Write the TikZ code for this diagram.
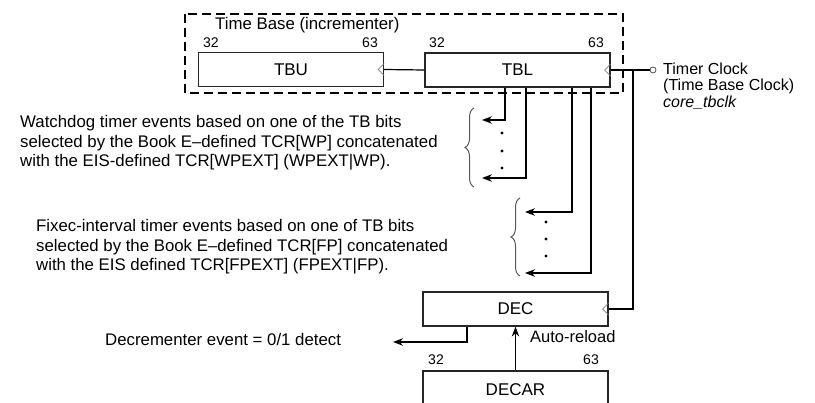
\documentclass[tikz,border=0pt]{standalone}
\usepackage{fontspec}
\setmainfont{Liberation Sans}
\usetikzlibrary{arrows.meta,decorations.pathreplacing,calc}
\begin{document}
\begin{tikzpicture}[x=1pt,y=-1pt,
  reg/.style={draw=black!85,line width=1.2pt,minimum width=185pt,minimum height=34pt,inner sep=0pt,font=\fontsize{17}{18}\selectfont},
  lbl/.style={inner sep=0pt,align=left,font=\fontsize{16.8}{19.6}\selectfont},
  bitnum/.style={inner sep=0pt,font=\fontsize{14}{15}\selectfont},
  conn/.style={line width=1.2pt},
  arr/.style={conn,-{Stealth[length=10pt,width=7.5pt]}},
  clk/.style={draw=black!50,line width=0.8pt},
  brc/.style={draw=black!65,line width=1pt,decorate,decoration={brace,amplitude=9pt}},
  tapdot/.style={circle,fill=black,inner sep=0pt,minimum size=3.4pt}
]
\path[use as bounding box] (0,0) rectangle (815,403);
\clip (0,0) rectangle (815,403);

% dashed time base box
\draw[line width=1.4pt,dash pattern=on 9pt off 5pt] (185,14) rectangle (623,93);
\node[lbl,anchor=west] (tbtitle) at (215,25) {Time Base (incrementer)};

% registers
\node[reg] (TBU) at (291,69.5) {TBU};
\node[reg] (TBL) at (517.5,70) {TBL};
\node[reg] (DEC) at (515.5,309) {DEC};
\node[reg,minimum height=38pt] (DECAR) at (515.5,390) {DECAR};

% bit numbers
\node[bitnum] (tbu32) at (211,43) {32};
\node[bitnum] (tbu63) at (370,43) {63};
\node[bitnum] (tbl32) at (437,43) {32};
\node[bitnum] (tbl63) at (596,43) {63};
\node[bitnum] (dec32) at (436,360) {32};
\node[bitnum] (dec63) at (591,360) {63};

% clock marks
\foreach \r in {TBU,TBL,DEC}{
  \draw[clk] ($(\r.east)+(0,-6)$) -- ($(\r.east)+(-6,0)$) -- ($(\r.east)+(0,6)$);
}

% TBU <- TBL carry
\draw[conn] (TBU.east) -- (TBL.west);

% timer clock input
\node[circle,draw=black!70,line width=0.8pt,inner sep=0pt,minimum size=6pt] (clkin) at (653,70) {};
\draw[conn] (TBL.east) -- (clkin.west);
\coordinate (clkj) at (633,70);
\draw[conn] (clkj) |- (DEC.east);
\node[lbl,anchor=west,font=\fontsize{16}{16.5}\selectfont] (clktext) at (663,86)
  {Timer Clock\\(Time Base Clock)\\\textit{core\_tbclk}};

% watchdog taps
\coordinate (w1) at (482,120);
\coordinate (w2) at (482,178);
\draw[arr] (TBL.south -| 505,0) |- (w1);
\draw[arr] (TBL.south -| 526,0) |- (w2);
\node[tapdot] (wd1) at (502,133) {};
\node[tapdot] (wd2) at (502,151) {};
\node[tapdot] (wd3) at (502,168) {};
\draw[brc] (474,187) -- (474,108);

% fixed-interval taps
\coordinate (f1) at (525,212);
\coordinate (f2) at (525,273);
\draw[arr] (TBL.south -| 572,0) |- (f1);
\draw[arr] (TBL.south -| 591,0) |- (f2);
\node[tapdot] (fd1) at (546,222) {};
\node[tapdot] (fd2) at (546,239) {};
\node[tapdot] (fd3) at (546,256) {};
\draw[brc] (520,276) -- (520,198);

% texts
\node[lbl,anchor=west] (wdtext) at (20,143)
  {Watchdog timer events based on one of the TB bits\\
   selected by the Book E--defined TCR[WP] concatenated\\
   with the EIS-defined TCR[WPEXT] (WPEXT|WP).};
\node[lbl,anchor=west] (fitext) at (36,247)
  {Fixec-interval timer events based on one of TB bits\\
   selected by the Book E--defined TCR[FP] concatenated\\
   with the EIS defined TCR[FPEXT] (FPEXT|FP).};

% decrementer output
\coordinate (decout) at (393,342);
\draw[arr] (DEC.south -| 467,0) |- (decout);
\node[lbl,anchor=west] (dectext) at (105,339) {Decrementer event = 0/1 detect};

% auto-reload
\draw[arr] (DECAR.north) -- (DEC.south);
\node[lbl,anchor=west,font=\fontsize{16.5}{17}\selectfont] (autorl) at (530,337) {Auto-reload};
\end{tikzpicture}
\end{document}
